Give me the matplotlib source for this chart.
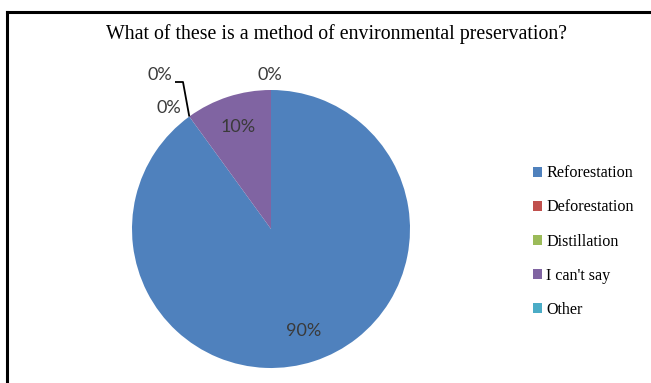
import numpy as np
import matplotlib
matplotlib.use("Agg")
import matplotlib.pyplot as plt
from matplotlib.patches import Patch

# ответы на вопрос опроса
categories = ["Reforestation", "Deforestation", "Distillation", "I can't say", "Other"]
shares = [90, 0, 0, 10, 0]
colors = ["#4F81BD", "#C0504D", "#9BBB59", "#8064A2", "#4BACC6"]

W, H = 651, 383
cx, cy, R = 271, 229, 139  # центр и радиус круга в пикселях

fig = plt.figure(figsize=(W / 100, H / 100), dpi=100)
ax = fig.add_axes([0, 0, 1, 1])

wedges, _ = ax.pie(shares, colors=colors, startangle=90, counterclock=False,
                   radius=1, center=(0, 0), frame=True,
                   wedgeprops=dict(linewidth=0))
ax.set_xlim(-cx / R, (W - cx) / R)
ax.set_ylim(-(H - cy) / R, cy / R)
ax.set_aspect("equal")
ax.axis("off")

# подписи: ненулевые внутри, нулевые снаружи
lbl_font = dict(family=["Lato", "DejaVu Sans"], fontsize=13, color="#3a3a3a")
zero_dist = {1: 1.14, 2: 1.37, 4: 1.11}
zero_ang = {1: 130, 2: 125.8, 4: 90.5}
for i, (w, v) in enumerate(zip(wedges, shares)):
    mid = np.deg2rad((w.theta1 + w.theta2) / 2)
    if v > 0:
        x, y = 0.77 * np.cos(mid), 0.77 * np.sin(mid)
    else:
        a = np.deg2rad(zero_ang[i])
        x, y = zero_dist[i] * np.cos(a), zero_dist[i] * np.sin(a)
    ax.text(x, y, f"{v}%", ha="center", va="center", **lbl_font)

# выноска для Distillation
edge = np.deg2rad(wedges[2].theta1)
px = lambda u, v: ((u - cx) / R, (cy - v) / R)
p0 = px(175, 82)
p1 = px(183, 82)
ax.plot([p0[0], p1[0], np.cos(edge)], [p0[1], p1[1], np.sin(edge)],
        color="black", lw=1.3, solid_capstyle="butt")

# рамка диаграммы (видны верх и левый край)
fig.add_artist(plt.Line2D([7 / W, 1], [1 - 12 / H, 1 - 12 / H], color="black", lw=2.2))
fig.add_artist(plt.Line2D([7 / W, 7 / W], [0, 1 - 12 / H], color="black", lw=2.2))

fig.text(336 / W, 1 - 34 / H, "What of these is a method of environmental preservation?",
         ha="center", va="center", family="Liberation Serif", fontsize=14.3, color="black")

handles = [Patch(facecolor=c, edgecolor="none") for c in colors]
fig.legend(handles, categories, loc="upper left", bbox_to_anchor=(527 / W, 1 - 159 / H),
           frameon=False, prop=dict(family="Liberation Serif", size=11.6),
           handlelength=0.55, handleheight=0.55, handletextpad=0.25, labelspacing=1.12,
           borderaxespad=0)

fig.savefig("out.png", dpi=100)
